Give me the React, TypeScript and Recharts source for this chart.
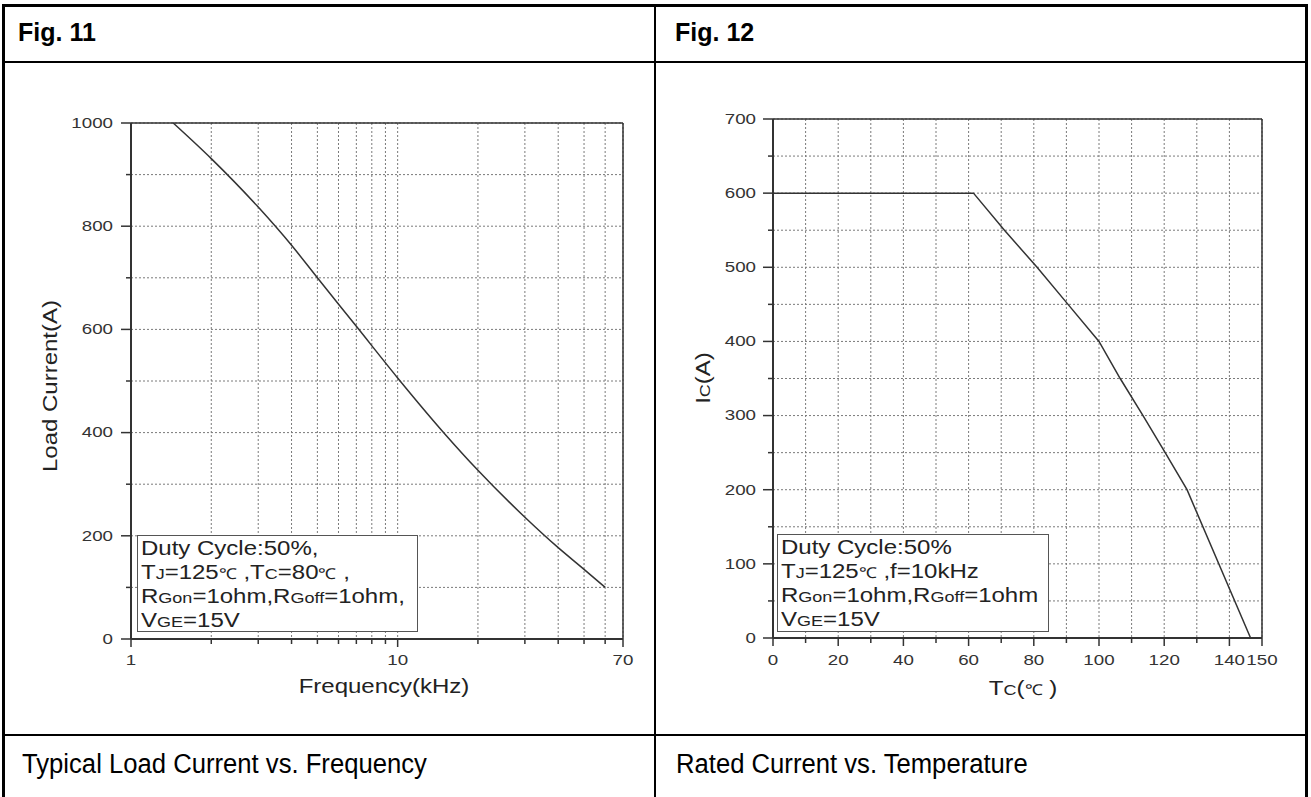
import React from "react";
import { LineChart, Line, XAxis, YAxis, CartesianGrid, ReferenceLine } from "recharts";

// Fig. 11 - load current vs switching frequency (log x)
const freqKHz = [1.44, 2, 3, 4, 5, 7, 10, 15, 20, 30, 40, 50, 60];
const loadCurrent = [1000, 931, 837, 763, 700, 606, 506, 398, 327, 236, 177, 135, 100];
const freqTicks = [1, 2, 3, 4, 5, 6, 7, 8, 9, 10, 20, 30, 40, 50, 60, 70];
const freqLabels = [1, 10, 70];
const loadTicks = [0, 100, 200, 300, 400, 500, 600, 700, 800, 900, 1000];
const loadLabels = [0, 200, 400, 600, 800, 1000];

// Fig. 12 - rated current vs case temperature
const caseTemp = [0, 61.5, 71, 81, 90.5, 100, 106.5, 113.5, 120.3, 127, 146.5];
const ratedCurrent = [600, 600, 550, 500, 450, 400, 350, 300, 250, 200, 0];
const tempTicks = [0, 10, 20, 30, 40, 50, 60, 70, 80, 90, 100, 110, 120, 130, 140, 150];
const tempLabels = [0, 20, 40, 60, 80, 100, 120, 140, 150];
const icTicks = [0, 50, 100, 150, 200, 250, 300, 350, 400, 450, 500, 550, 600, 650, 700];
const icLabels = [0, 100, 200, 300, 400, 500, 600, 700];

const FONT = "'Liberation Sans', Arial, sans-serif";
const INK = "#333";
const GRID = "#7a7a7a";

const loadData = freqKHz.map((f, i) => ({ f, a: loadCurrent[i] }));
const tempData = caseTemp.map((t, i) => ({ t, a: ratedCurrent[i] }));

function leftTick(labels: number[], gap: number) {
  return (props: any) => {
    const { x, y, payload } = props;
    const major = labels.includes(payload.value);
    return (
      <g>
        <line x1={x} y1={y} x2={x - (major ? 10 : 5)} y2={y} stroke={INK} strokeWidth={1.5} />
        {major && (
          <text
            transform={`translate(${x - gap},${y}) scale(1.25,1)`}
            textAnchor="end"
            dominantBaseline="central"
            fontSize={15}
            fontFamily={FONT}
            fill={INK}
          >
            {payload.value}
          </text>
        )}
      </g>
    );
  };
}

function bottomTick(labels: number[], gap: number) {
  return (props: any) => {
    const { x, y, payload } = props;
    const major = labels.includes(payload.value);
    return (
      <g>
        <line x1={x} y1={y} x2={x} y2={y + (major ? 8 : 5)} stroke={INK} strokeWidth={1.5} />
        {major && (
          <text
            transform={`translate(${x},${y + gap}) scale(1.25,1)`}
            textAnchor="middle"
            dominantBaseline="central"
            fontSize={15}
            fontFamily={FONT}
            fill={INK}
          >
            {payload.value}
          </text>
        )}
      </g>
    );
  };
}

const Sub = ({ children }: { children: React.ReactNode }) => (
  <span style={{ fontSize: 15, lineHeight: 1 }}>{children}</span>
);

function NoteBox({ left, top, width, height, lines }: any) {
  return (
    <div
      style={{
        position: "absolute",
        left,
        top,
        width,
        height,
        boxSizing: "border-box",
        border: "1.5px solid #555",
        background: "#fff",
        fontFamily: FONT,
        fontSize: 20,
        color: "#222",
        padding: "0 0 0 3px",
        overflow: "hidden",
      }}
    >
      <div style={{ transform: "scaleX(1.2)", transformOrigin: "left top", whiteSpace: "nowrap" }}>
        {lines.map((l: React.ReactNode, i: number) => (
          <div key={i} style={{ height: 24, lineHeight: "24px" }}>{l}</div>
        ))}
      </div>
    </div>
  );
}

function AxisTitle({ x, y, rotate, children }: any) {
  return (
    <div
      style={{
        position: "absolute",
        left: x,
        top: y,
        fontFamily: FONT,
        fontSize: 20,
        lineHeight: 1,
        color: "#222",
        whiteSpace: "nowrap",
        transform: `translate(-50%,-50%) ${rotate ? "rotate(-90deg) " : ""}scaleX(1.2)`,
      }}
    >
      {children}
    </div>
  );
}

function Rule({ x, y, w, h }: any) {
  return <div style={{ position: "absolute", left: x, top: y, width: w, height: h, background: "#000" }} />;
}

export default function App() {
  return (
    <div style={{ position: "absolute", left: 0, top: 0, width: 1311, height: 797, background: "#fff", overflow: "hidden" }}>
      {/* table frame */}
      <Rule x={2} y={4} w={1306} h={3} />
      <Rule x={2} y={4} w={3} h={800} />
      <Rule x={1305} y={4} w={3} h={800} />
      <Rule x={2} y={61} w={1306} h={2} />
      <Rule x={2} y={734} w={1306} h={2} />
      <Rule x={654} y={4} w={2} h={800} />

      <div style={{ position: "absolute", left: 18, top: 20, fontFamily: FONT, fontWeight: "bold", fontSize: 25, lineHeight: 1, color: "#000" }}>
        Fig. 11
      </div>
      <div style={{ position: "absolute", left: 675, top: 20, fontFamily: FONT, fontWeight: "bold", fontSize: 25, lineHeight: 1, color: "#000" }}>
        Fig. 12
      </div>
      <div style={{ position: "absolute", left: 22, top: 751, fontFamily: FONT, fontSize: 27, lineHeight: 1, color: "#000", transform: "scaleX(0.95)", transformOrigin: "left", whiteSpace: "nowrap" }}>
        Typical Load Current vs. Frequency
      </div>
      <div style={{ position: "absolute", left: 676, top: 751, fontFamily: FONT, fontSize: 27, lineHeight: 1, color: "#000", transform: "scaleX(0.95)", transformOrigin: "left", whiteSpace: "nowrap" }}>
        Rated Current vs. Temperature
      </div>

      {/* Fig. 11 chart */}
      <div style={{ position: "absolute", left: 0, top: 70 }}>
        <LineChart width={655} height={660} data={loadData} margin={{ top: 53, right: 32, bottom: 61, left: 71 }}>
          <CartesianGrid stroke={GRID} strokeDasharray="2 2" />
          <XAxis
            dataKey="f"
            type="number"
            scale="log"
            domain={[1, 70]}
            allowDataOverflow
            ticks={freqTicks}
            interval={0}
            height={30}
            tickSize={0}
            tickMargin={0}
            tickLine={false}
            axisLine={{ stroke: INK, strokeWidth: 2 }}
            tick={bottomTick(freqLabels, 21)}
          />
          <YAxis
            type="number"
            domain={[0, 1000]}
            ticks={loadTicks}
            interval={0}
            width={60}
            tickSize={0}
            tickMargin={0}
            tickLine={false}
            axisLine={{ stroke: INK, strokeWidth: 2 }}
            tick={leftTick(loadLabels, 18)}
          />
          <ReferenceLine y={1000} stroke={INK} strokeWidth={1.5} />
          <ReferenceLine x={70} stroke={INK} strokeWidth={1.5} />
          <Line type="monotone" dataKey="a" stroke={INK} strokeWidth={1.5} dot={false} isAnimationActive={false} />
        </LineChart>
      </div>

      {/* Fig. 12 chart */}
      <div style={{ position: "absolute", left: 655, top: 70 }}>
        <LineChart width={656} height={660} data={tempData} margin={{ top: 49, right: 49, bottom: 62, left: 58 }}>
          <CartesianGrid stroke={GRID} strokeDasharray="2 2" />
          <XAxis
            dataKey="t"
            type="number"
            domain={[0, 150]}
            ticks={tempTicks}
            interval={0}
            height={30}
            tickSize={0}
            tickMargin={0}
            tickLine={false}
            axisLine={{ stroke: INK, strokeWidth: 2 }}
            tick={bottomTick(tempLabels, 22)}
          />
          <YAxis
            type="number"
            domain={[0, 700]}
            ticks={icTicks}
            interval={0}
            width={60}
            tickSize={0}
            tickMargin={0}
            tickLine={false}
            axisLine={{ stroke: INK, strokeWidth: 2 }}
            tick={leftTick(icLabels, 17)}
          />
          <ReferenceLine y={700} stroke={INK} strokeWidth={1.5} />
          <ReferenceLine x={150} stroke={INK} strokeWidth={1.5} />
          <Line type="linear" dataKey="a" stroke={INK} strokeWidth={1.5} dot={false} isAnimationActive={false} />
        </LineChart>
      </div>

      <AxisTitle x={50} y={386} rotate>Load Current(A)</AxisTitle>
      <AxisTitle x={384} y={686}>Frequency(kHz)</AxisTitle>
      <AxisTitle x={703} y={378} rotate>
        I<Sub>C</Sub>(A)
      </AxisTitle>
      <AxisTitle x={1023} y={688}>
        T<Sub>C</Sub>(<Sub>℃</Sub> )
      </AxisTitle>

      <NoteBox
        left={137}
        top={535}
        width={281}
        height={97}
        lines={[
          <>Duty Cycle:50%,</>,
          <>T<Sub>J</Sub>=125<Sub>℃</Sub> ,T<Sub>C</Sub>=80<Sub>℃</Sub> ,</>,
          <>R<Sub>Gon</Sub>=1ohm,R<Sub>Goff</Sub>=1ohm,</>,
          <>V<Sub>GE</Sub>=15V</>,
        ]}
      />
      <NoteBox
        left={777}
        top={534}
        width={272}
        height={98}
        lines={[
          <>Duty Cycle:50%</>,
          <>T<Sub>J</Sub>=125<Sub>℃</Sub> ,f=10kHz</>,
          <>R<Sub>Gon</Sub>=1ohm,R<Sub>Goff</Sub>=1ohm</>,
          <>V<Sub>GE</Sub>=15V</>,
        ]}
      />
    </div>
  );
}
